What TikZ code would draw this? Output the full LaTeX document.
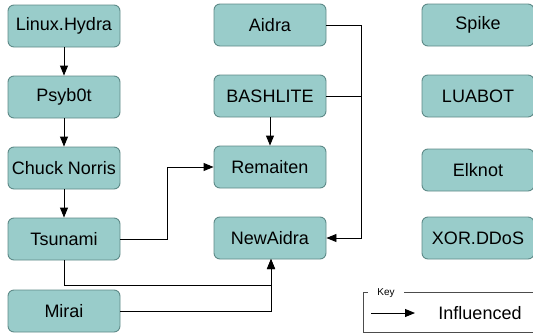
\documentclass[tikz,border=0pt]{standalone}
\usepackage{fontspec}
\setmainfont{Liberation Sans}
\usepackage{xcolor}
\usetikzlibrary{positioning,arrows.meta}
\definecolor{boxfill}{HTML}{99CCCA}
\definecolor{boxline}{HTML}{5E8A88}
\begin{document}
\begin{tikzpicture}[x=1pt, y=-1pt, >={Triangle[length=10pt,width=8pt]},
  line width=0.9pt,
  fam/.style={draw=boxline, fill=boxfill, rounded corners=6pt, minimum width=112pt,
    minimum height=42pt, inner sep=0pt, font=\fontsize{18}{21}\selectfont},
  link/.style={->, draw=black},
  keytag/.style={font=\fontsize{10}{12}\selectfont, fill=white, inner xsep=9pt, inner ysep=0pt}]
\useasboundingbox (0,0) rectangle (533,335);
% ================= left column =================
\node[fam] (lh) at (64,26) {Linux.Hydra};
\node[fam] (psy) at (64,97) {Psyb0t};
\node[fam] (cn) at (64,168) {Chuck Norris};
\node[fam] (tsu) at (64,239) {Tsunami};
\node[fam] (mir) at (64,311) {Mirai};
% ================= middle column =================
\node[fam] (aid) at (270,25) {Aidra};
\node[fam] (bash) at (270,96) {BASHLITE};
\node[fam] (rem) at (270,167) {Remaiten};
\node[fam] (newa) at (270,238) {NewAidra};
% ================= right column =================
\node[fam] (spk) at (478,25) {Spike};
\node[fam] (lua) at (478,96) {LUABOT};
\node[fam] (elk) at (478,170) {Elknot};
\node[fam] (xor) at (478,238) {XOR.DDoS};
% ================= influences =================
\draw[link] (lh) -- (psy);
\draw[link] (psy) -- (cn);
\draw[link] (cn) -- (tsu);
\draw[link] (bash) -- (rem);
\draw[link] (tsu.east) -- (167,239) |- (rem.west);
\draw[link] (aid.east) -- (361,25) |- (newa.east);
\draw (bash.east) -- (361,96);
\draw[link] (tsu.south) |- (271,285) -- (271,259);
\draw[link] (mir.east) -| (271,259);
% ================= key =================
\draw[line width=0.7pt, draw=black!70] (533,292) -- (363,292) -- (363,332) -- (533,332);
\node[keytag] (key) at (386,293) {Key};
\coordinate (ka) at (371,313);
\coordinate (kb) at (415,313);
\draw[link] (ka) -- (kb);
\node[font=\fontsize{18}{21}\selectfont] (infl) at (480,313) {Influenced};
\end{tikzpicture}
\end{document}
